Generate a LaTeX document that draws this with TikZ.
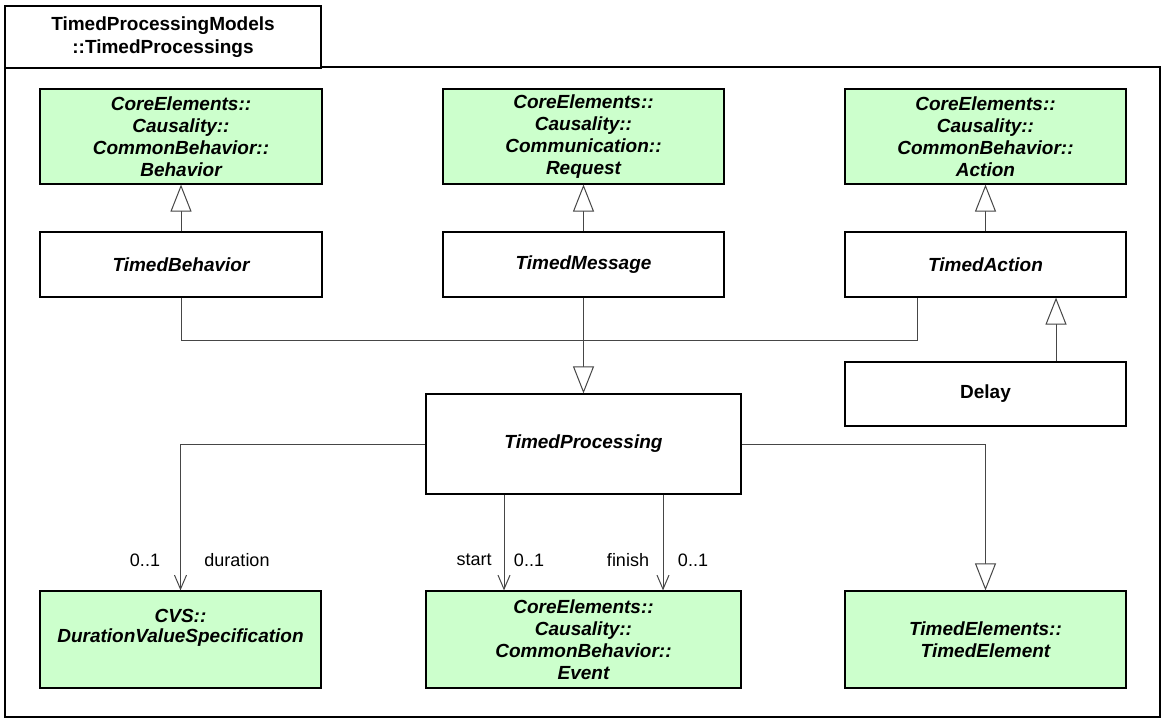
\documentclass[tikz,border=0pt]{standalone}
\usepackage{fontspec}
\setmainfont{Liberation Sans}
\usetikzlibrary{arrows.meta}
\definecolor{umlgreen}{RGB}{204,255,204}
\definecolor{conn}{RGB}{70,70,70}
\begin{document}
\begin{tikzpicture}[x=1pt,y=-1pt,
  frm/.style={draw=black,line width=1.3pt},
  cls/.style={draw=black,line width=1.2pt,fill=white,inner sep=0pt,align=center,
    font=\fontsize{19}{22}\selectfont\bfseries\itshape},
  ext/.style={cls,fill=umlgreen},
  txt/.style={inner sep=0pt,align=center,font=\fontsize{19}{20}\selectfont\bfseries\itshape},
  lbl/.style={inner sep=0pt,font=\fontsize{18}{20}\selectfont},
  gen/.style={draw=conn,line width=1pt,-{Triangle[open,length=27pt,width=21pt,fill=white]}},
  assoc/.style={draw=conn,line width=1pt,-{Straight Barb[length=14pt,width=12pt]}},
  link/.style={draw=conn,line width=1pt}]
\useasboundingbox (0,0) rectangle (1162,719);
% frame
\draw[frm] (5,67) rectangle (1160,717);
\node[frm,fill=white,minimum width=316pt,minimum height=62pt,inner sep=0pt,align=center,
  font=\fontsize{19}{23}\selectfont\bfseries] (tab) at (163,37)
  {TimedProcessingModels\\::TimedProcessings};
% top row
\node[ext,minimum width=282pt,minimum height=95pt] (beh) at (181,136.5)
  {CoreElements::\\Causality::\\CommonBehavior::\\Behavior};
\node[ext,minimum width=281pt,minimum height=95pt] (req) at (583.5,136.5)
  {CoreElements::\\Causality::\\Communication::\\Request};
\node[ext,minimum width=281pt,minimum height=95pt] (act) at (985.5,136.5)
  {CoreElements::\\Causality::\\CommonBehavior::\\Action};
% second row
\node[cls,minimum width=282pt,minimum height=65pt] (tb) at (181,264.5) {TimedBehavior};
\node[cls,minimum width=281pt,minimum height=65pt] (tm) at (583.5,264.5) {TimedMessage};
\node[cls,minimum width=281pt,minimum height=65pt] (ta) at (985.5,264.5) {TimedAction};
\node[cls,minimum width=281pt,minimum height=64pt,font=\fontsize{19}{22}\selectfont\bfseries] (delay) at (985.5,394) {Delay};
\node[cls,minimum width=315pt,minimum height=100pt] (tp) at (583.5,444) {TimedProcessing};
% bottom row
\node[ext,minimum width=281pt,minimum height=97pt] (dvs) at (180.5,639.5) {};
\node[txt] (dvsT) at (180.5,628) {CVS::\\DurationValueSpecification};
\node[ext,minimum width=315pt,minimum height=97pt] (ev) at (583.5,639.5)
  {CoreElements::\\Causality::\\CommonBehavior::\\Event};
\node[ext,minimum width=281pt,minimum height=97pt] (te) at (985.5,639.5)
  {TimedElements::\\TimedElement};
% generalizations
\draw[gen] (tb.north) -- (beh.south);
\draw[gen] (tm.north) -- (req.south);
\draw[gen] (ta.north) -- (act.south);
\draw[gen] ([xshift=70.5pt]delay.north) -- ([xshift=70.5pt]ta.south);
\coordinate (jl) at (tb.south |- 0,340);
\coordinate (jr) at ([xshift=-68.5pt]ta.south |- 0,340);
\draw[link] (tb.south) -- (jl) -- (jr) -- ([xshift=-68.5pt]ta.south);
\draw[gen] (tm.south) -- (tp.north);
\coordinate (tr) at (te.north |- tp.east);
\draw[link] (tp.east) -- (tr);
\draw[gen] (tr) -- (te.north);
% associations
\coordinate (tl) at (dvsT.north |- tp.west);
\draw[link] (tp.west) -- (tl);
\draw[assoc] (tl) -- (dvsT.north |- dvs.north);
\draw[assoc] ([xshift=-79.5pt]tp.south) -- ([xshift=-79.5pt]ev.north);
\draw[assoc] ([xshift=79.5pt]tp.south) -- ([xshift=79.5pt]ev.north);
% labels
\node[lbl] (m1) at (145,560) {0..1};
\node[lbl] (r1) at (237,560) {duration};
\node[lbl] (r2) at (474,560) {start};
\node[lbl] (m2) at (529,560) {0..1};
\node[lbl] (r3) at (628,560) {finish};
\node[lbl] (m3) at (693,560) {0..1};
\end{tikzpicture}
\end{document}
